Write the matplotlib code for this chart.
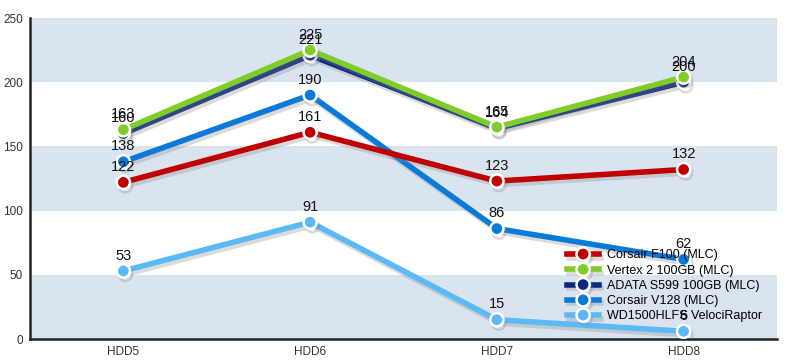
import numpy as np
import matplotlib.pyplot as plt
import matplotlib.patheffects as pe
from matplotlib.lines import Line2D

categories = ["HDD5", "HDD6", "HDD7", "HDD8"]

corsair_f100 = [122, 161, 123, 132]
vertex2 = [163, 225, 165, 204]
adata_s599 = [160, 221, 164, 200]
corsair_v128 = [138, 190, 86, 62]
wd_raptor = [53, 91, 15, 6]

series_names = ["Corsair F100 (MLC)", "Vertex 2 100GB (MLC)", "ADATA S599 100GB (MLC)",
                "Corsair V128 (MLC)", "WD1500HLFS VelociRaptor"]
series_values = [corsair_f100, vertex2, adata_s599, corsair_v128, wd_raptor]
colors = ["#c00000", "#80cc28", "#0a2a82", "#0a7ad8", "#5bbaf5"]

# stacking: red sits over V128, vertex 2 sits over adata
draw_order = [4, 3, 0, 2, 1]

plt.rcParams['font.family'] = ['Liberation Sans', 'DejaVu Sans']

fig = plt.figure(figsize=(7.87, 3.61), dpi=100)
ax = fig.add_axes([30 / 787, 22 / 361, 747 / 787, 321 / 361])

x = np.arange(len(categories))
ax.set_xlim(-0.5, len(categories) - 0.5)
ax.set_ylim(0, 250)

for lo in (0, 100, 200):
    ax.axhspan(lo, lo + 50, color="#dae4ef", lw=0, zorder=0)

shadow = [pe.SimpleLineShadow(offset=(1.5, -2.5), shadow_color="#888888", alpha=0.3), pe.Normal()]

for z, i in enumerate(draw_order):
    ax.plot(x, series_values[i], color=colors[i], lw=4, solid_capstyle="butt",
            marker="o", ms=9.5, mfc=colors[i], mec="white", mew=1.8,
            path_effects=shadow, zorder=3 + z, label=series_names[i])

for i in range(len(series_values)):
    for xi, v in zip(x, series_values[i]):
        ax.annotate(str(v), (xi, v), xytext=(0, 6), textcoords="offset points",
                    ha="center", va="bottom", fontsize=10.5, color="#111111", zorder=10)

ax.set_xticks(x)
ax.set_xticklabels(categories)
ax.set_yticks(range(0, 251, 50))
ax.tick_params(length=0, labelsize=8.5, colors="#333333", pad=5)
for s in ("top", "right"):
    ax.spines[s].set_visible(False)
for s in ("left", "bottom"):
    ax.spines[s].set_linewidth(1.8)
    ax.spines[s].set_color("#222222")

handles = [Line2D([0], [0], color=colors[i], lw=4, marker="o", ms=9.5, mfc=colors[i],
                  mec="white", mew=1.8, path_effects=shadow) for i in range(5)]
leg = ax.legend(handles, series_names, loc="lower left", bbox_to_anchor=(0.712, 0.036),
                frameon=False, fontsize=9, handlelength=2.6, handletextpad=0.6,
                labelspacing=0.26, borderaxespad=0)
leg.set_zorder(20)

fig.savefig("out.png", dpi=100)
